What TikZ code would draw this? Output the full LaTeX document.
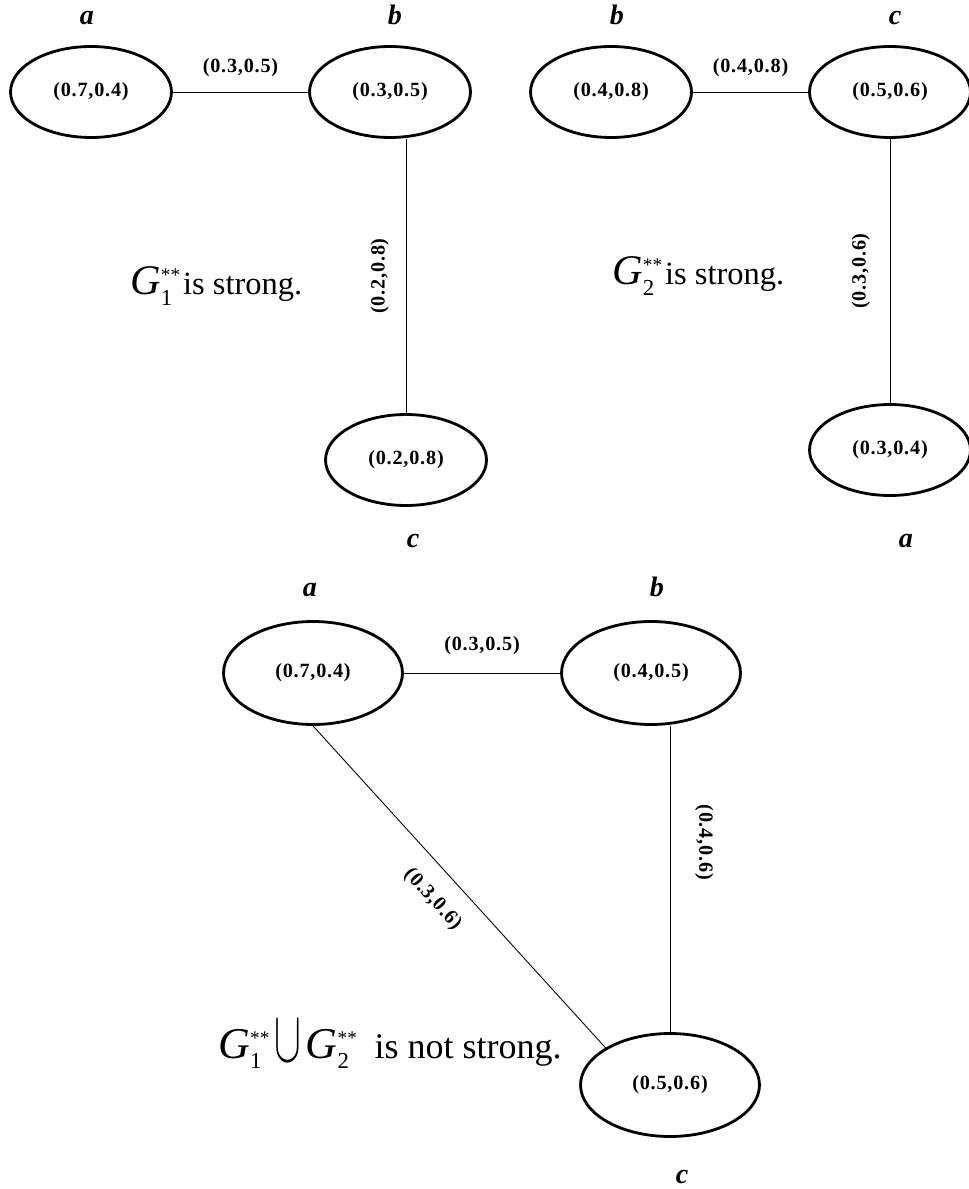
\documentclass[tikz,border=0pt]{standalone}
\usepackage{fontspec}
\usepackage{graphicx}
\setmainfont{Liberation Serif}
\newfontfamily\valfam{Liberation Serif}[LetterSpace=4]
\usepackage{tikz}
\usetikzlibrary{shapes.geometric,positioning}

\newcommand{\valfont}{\valfam\bfseries\fontsize{11.5}{13}\selectfont}
\newcommand{\namefont}{\bfseries\itshape\fontsize{16}{18}\selectfont}
\newcommand{\Gstar}[2]{{\fontsize{#2}{#2}\selectfont\itshape G}\rlap{\raisebox{-6pt}{\fontsize{13}{13}\selectfont #1}}\raisebox{7.5pt}{\fontsize{11}{11}\selectfont **}}
\newcommand{\bigcupsym}{\raisebox{-2pt}{\scalebox{1.1}[2.0]{\fontsize{22}{22}\selectfont$\cup$}}}

\tikzset{
  vtx/.style={ellipse, draw, line width=1.6pt, inner sep=0pt, minimum width=3.22cm, minimum height=1.82cm, font=\valfont},
  bigvtx/.style={vtx, minimum width=3.58cm, minimum height=2.06cm},
  wt/.style={font=\valfont, sloped, inner sep=#1},
  vname/.style={font=\namefont, anchor=base},
  claim/.style={anchor=base west, inner sep=0pt}
}

\begin{document}
\begin{tikzpicture}[x=0.02cm, y=-0.02cm, line width=0.5pt]
\useasboundingbox (0,0) rectangle (969,1189);

% G1**
\node[vtx] (A1) at (91,92) {(0.7,0.4)};
\node[vtx] (B1) at (390,92) {(0.3,0.5)};
\node[vtx] (C1) at (406,460) {(0.2,0.8)};
\node[vname] (na1) at (87,25) {a};
\node[vname] (nb1) at (395,25) {b};
\node[vname] (nc1) at (413,547) {c};
\draw (A1) -- (B1) node[midway, above, wt=8.4pt] {(0.3,0.5)};
\draw (C1) -- (C1 |- B1.south) node[midway, above, wt=9.5pt] {(0.2,0.8)};
\node[claim] (s1) at (130,295) {\Gstar{1}{24}\,{\fontsize{18.5}{20}\selectfont is strong.}};

% G2**
\node[vtx] (B2) at (611,92) {(0.4,0.8)};
\node[vtx] (C2) at (890,92) {(0.5,0.6)};
\node[vtx] (A2) at (890,450) {(0.3,0.4)};
\node[vname] (nb2) at (617,25) {b};
\node[vname] (nc2) at (895,25) {c};
\node[vname] (na2) at (906,547) {a};
\draw (B2) -- (C2) node[midway, above, wt=8.4pt] {(0.4,0.8)};
\draw (A2) -- (C2) node[midway, above, wt=11.2pt] {(0.3,0.6)};
\node[claim] (s2) at (612,285) {\Gstar{2}{24}\,{\fontsize{18.5}{20}\selectfont is strong.}};

% union
\node[bigvtx] (A3) at (313,673) {(0.7,0.4)};
\node[bigvtx] (B3) at (651,673) {(0.4,0.5)};
\node[bigvtx] (C3) at (670,1085) {(0.5,0.6)};
\node[vname] (na3) at (310,596) {a};
\node[vname] (nb3) at (657,596) {b};
\node[vname] (nc3) at (682,1183) {c};
\draw (A3) -- (B3) node[midway, above, wt=10pt] {(0.3,0.5)};
\draw (C3 |- B3.south) -- (C3) node[pos=0.38, above, wt=14pt] {(0.4,0.6)};
\draw (A3.south) -- (C3.150) node[pos=0.48, below, wt=10.5pt] {(0.3,0.6)};
\node[claim] (s3) at (218,1058) {\Gstar{1}{25}\;\bigcupsym\;\Gstar{2}{25}\quad{\fontsize{20.5}{22}\selectfont is not strong.}};
\end{tikzpicture}
\end{document}
